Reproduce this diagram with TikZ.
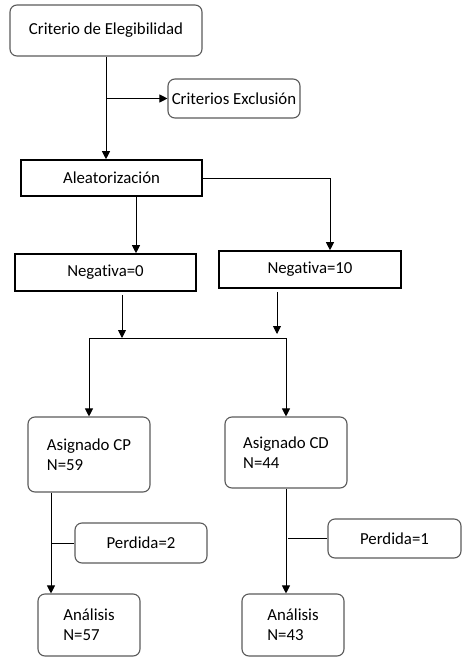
\documentclass[tikz,border=0pt]{standalone}
\usepackage{fontspec}
\setmainfont[Ligatures={NoCommon}]{Carlito}
\usepackage{tikz}
\usetikzlibrary{shapes,arrows,arrows.meta}
\definecolor{boxgray}{RGB}{90,90,90}
\tikzstyle{line} = [draw, line width=0.9pt, -{Triangle[length=8pt,width=8pt]}]
\tikzstyle{plain} = [draw, line width=0.9pt]
\tikzstyle{rbox} = [draw=boxgray, line width=1.1pt, rounded corners=7pt, inner sep=0pt, align=left, font=\fontsize{16.8}{20}\selectfont]
\tikzstyle{sbox} = [draw=black, line width=1.6pt, inner sep=0pt, font=\fontsize{16.8}{20}\selectfont]

\begin{document}
\begin{tikzpicture}[x=1pt, y=-1pt]
      \useasboundingbox (0,0) rectangle (474,663);

      % boxes
      \node[rbox, minimum width=192pt, minimum height=51pt] (crit) at (106,30.5) {Criterio de Elegibilidad};
      \node[rbox, minimum width=132pt, minimum height=39pt] (excl) at (234,98.5) {Criterios Exclusión};
      \node[sbox, minimum width=181pt, minimum height=36pt] (alea) at (111.5,178) {Aleatorización};

      \node[sbox, minimum width=181pt, minimum height=37pt] (neg0) at (105.5,272.5) {Negativa=0};
      \node[sbox, minimum width=182pt, minimum height=37pt] (neg10) at (310,269.5) {Negativa=10};

      \node[rbox, minimum width=122pt, minimum height=75pt] (cp) at (89,454.5) {Asignado CP\\N=59};
      \node[rbox, minimum width=122pt, minimum height=71pt] (cd) at (286,452.5) {Asignado CD\\N=44};

      \node[rbox, minimum width=132pt, minimum height=40pt] (perdcp) at (141,543) {Perdida=2};
      \node[rbox, minimum width=133pt, minimum height=39pt] (perdcd) at (394.5,538.5) {Perdida=1};

      \node[rbox, minimum width=102pt, minimum height=62pt] (anacp) at (89,625) {Análisis\\N=57};
      \node[rbox, minimum width=102pt, minimum height=62pt] (anacd) at (293,625) {Análisis\\N=43};

      % joins
      \coordinate (jl) at (89,338);
      \coordinate (jr) at (286,338);
      \coordinate (m10) at (277,334);

      % connectors
      \draw[line] (crit.south) -- (crit.south |- alea.north);
      \draw[line] (crit.south |- excl.west) -- (excl.west);

      \draw[line] ([xshift=24.5pt]alea.south) -- ([xshift=24.5pt]alea.south |- neg0.north);
      \draw[line] (alea.east) -| ([xshift=20pt]neg10.north);

      \draw[line] ([xshift=16.5pt,yshift=-3pt]neg0.south) -- ([xshift=16.5pt]neg0.south |- jl);
      \draw[line] ([yshift=-3pt]m10 |- neg10.south) -- (m10);

      \draw[plain] (jl) -- (jr);
      \draw[line] (jl) -- (cp.north);
      \draw[line] (jr) -- (cd.north);

      \draw[line] ([xshift=-38pt]cp.south) -- ([xshift=-38pt]cp.south |- anacp.north);
      \draw[plain] ([xshift=-38pt]cp.south |- perdcp.west) -- (perdcp.west);

      \draw[line] (cd.south) -- (cd.south |- anacd.north);
      \draw[plain] ([xshift=2pt]cd.south |- perdcd.west) -- (perdcd.west);
\end{tikzpicture}
\end{document}
